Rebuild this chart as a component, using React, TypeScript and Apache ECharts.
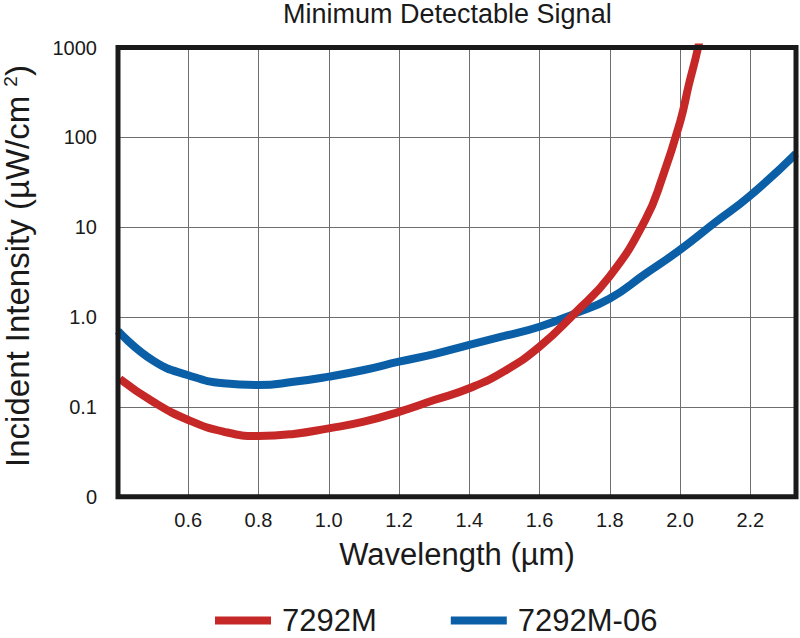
import React, { useEffect, useRef } from "react";
import * as echarts from "echarts";

const FONT = "'Liberation Sans', Arial, Helvetica, sans-serif";

const titleText = "Minimum Detectable Signal";
const xAxisName = "Wavelength (µm)";
const seriesNames = ["7292M", "7292M-06"];
const seriesColors = ["#c62828", "#0a5fa6"];

const wavelength7292M = [0.405, 0.5, 0.6, 0.7, 0.8, 0.9, 1.0, 1.1, 1.2, 1.3, 1.4, 1.5, 1.6, 1.7, 1.8, 1.9, 1.95, 2.0, 2.025, 2.05, 2.075];
const intensity7292M = [0.205, 0.114, 0.0715, 0.053, 0.0474, 0.05, 0.0577, 0.0684, 0.088, 0.119, 0.161, 0.25, 0.468, 1.1, 2.85, 11.8, 36, 148, 386, 950, 2900];

const wavelength7292M06 = [0.4, 0.5, 0.6, 0.7, 0.8, 0.9, 1.0, 1.1, 1.2, 1.3, 1.4, 1.5, 1.6, 1.7, 1.8, 1.9, 2.0, 2.1, 2.2, 2.33];
const intensity7292M06 = [0.7, 0.327, 0.225, 0.183, 0.175, 0.19, 0.217, 0.257, 0.318, 0.387, 0.489, 0.615, 0.78, 1.09, 1.61, 3.0, 5.6, 11.3, 22.5, 66];

const yTickLabels = ["0", "0.1", "1.0", "10", "100", "1000"]; // decades 0.01 .. 1000
const xTickLabels = ["0.6", "0.8", "1.0", "1.2", "1.4", "1.6", "1.8", "2.0", "2.2"];

const zip = (xs: number[], ys: number[]) => xs.map((x, i) => [x, ys[i]]);

export default function App() {
  const ref = useRef<HTMLDivElement>(null);
  useEffect(() => {
    if (!ref.current) return;
    const chart = echarts.init(ref.current, null, { renderer: "svg" });
    const textColor = "#1a1a1a";
    chart.setOption({
      animation: false,
      backgroundColor: "#ffffff",
      textStyle: { fontFamily: FONT },
      title: {
        text: titleText,
        left: 283,
        top: 0,
        padding: 0,
        textStyle: { fontFamily: FONT, fontSize: 27, fontWeight: "normal", color: textColor, lineHeight: 27 },
      },
      legend: {
        data: seriesNames,
        left: 215,
        top: 605,
        icon: "rect",
        itemWidth: 56,
        itemHeight: 8,
        itemGap: 74,
        padding: 0,
        textStyle: { fontFamily: FONT, fontSize: 31, color: textColor, padding: [0, 0, 0, 6], lineHeight: 31 },
      },
      grid: {
        left: 118,
        right: 4,
        top: 47.5,
        bottom: 141.3,
        show: true,
        borderColor: "#1a1a1a",
        borderWidth: 5,
        backgroundColor: "transparent",
        z: 10,
      },
      xAxis: {
        type: "value",
        min: 0.4,
        max: 2.33,
        interval: 0.2,
        name: xAxisName,
        nameLocation: "middle",
        nameGap: 42,
        nameTextStyle: { fontFamily: FONT, fontSize: 31, color: textColor },
        axisLine: { show: false },
        axisTick: { show: false },
        axisLabel: {
          fontFamily: FONT,
          fontSize: 20,
          color: textColor,
          margin: 13,
          showMinLabel: false,
          showMaxLabel: false,
          formatter: (v: number) => {
            const idx = Math.round((v - 0.6) / 0.2);
            return idx >= 0 && idx < xTickLabels.length && Math.abs(v - (0.6 + idx * 0.2)) < 1e-6 ? xTickLabels[idx] : "";
          },
        },
        splitLine: { show: true, lineStyle: { color: "#6e6e6e", width: 1 } },
      },
      yAxis: {
        type: "log",
        logBase: 10,
        min: 0.01,
        max: 1000,
        interval: 1,
        axisLine: { show: false },
        axisTick: { show: false },
        axisLabel: {
          fontFamily: FONT,
          fontSize: 20,
          color: textColor,
          margin: 21,
          formatter: (v: number) => {
            const idx = Math.round(Math.log10(v)) + 2;
            return yTickLabels[idx] ?? "";
          },
        },
        splitLine: { show: true, lineStyle: { color: "#6e6e6e", width: 1 } },
      },
      graphic: [
        {
          type: "text",
          x: 17,
          y: 266,
          rotation: Math.PI / 2,
          style: {
            text: "{a|Incident Intensity (µW/cm }{s|2}{a|)}",
            textAlign: "center",
            textVerticalAlign: "middle",
            align: "center",
            verticalAlign: "middle",
            rich: {
              a: { fontFamily: FONT, fontSize: 33, fill: textColor, lineHeight: 33 },
              s: { fontFamily: FONT, fontSize: 19, fill: textColor, verticalAlign: "top" },
            },
          },
        },
      ],
      series: [
        {
          name: seriesNames[0],
          type: "line",
          data: zip(wavelength7292M, intensity7292M),
          smooth: 0.5,
          showSymbol: false,
          clip: true,
          color: seriesColors[0],
          lineStyle: { color: seriesColors[0], width: 8 },
          itemStyle: { color: seriesColors[0] },
          z: 3,
        },
        {
          name: seriesNames[1],
          type: "line",
          data: zip(wavelength7292M06, intensity7292M06),
          smooth: 0.5,
          showSymbol: false,
          clip: true,
          color: seriesColors[1],
          lineStyle: { color: seriesColors[1], width: 8 },
          itemStyle: { color: seriesColors[1] },
          z: 2,
        },
      ],
    });
    return () => chart.dispose();
  }, []);
  return (
    <div
      ref={ref}
      style={{ position: "fixed", left: 0, top: 0, width: 800, height: 638 }}
    />
  );
}
